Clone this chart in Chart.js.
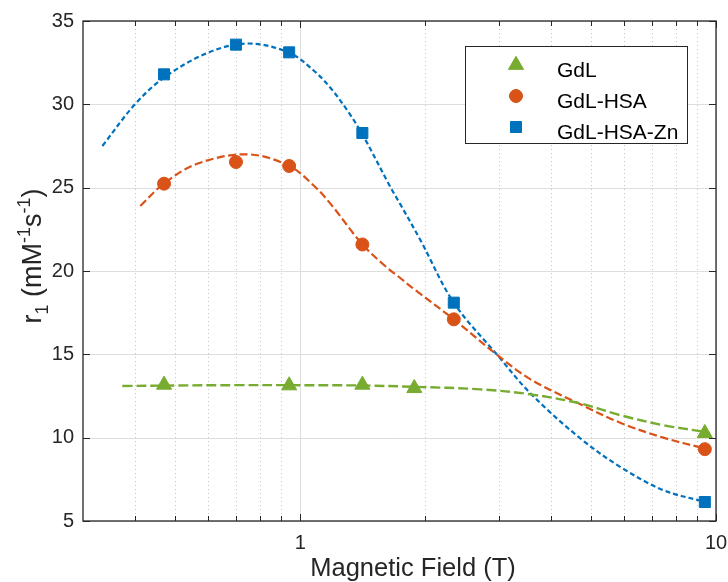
<!DOCTYPE html>
<html>
<head>
<meta charset="utf-8">
<script src="https://cdn.jsdelivr.net/npm/chart.js@4"></script>
<style>
  html, body { margin: 0; padding: 0; background: #ffffff; }
  #wrap { width: 728px; height: 582px; }
</style>
</head>
<body>
<div id="wrap"><canvas id="relaxChart" width="728" height="582"></canvas></div>
<script>
// Measured points
const gdlField = [0.47, 0.94, 1.41, 1.88, 9.4];
const gdlR1 = [13.17, 13.13, 13.17, 12.97, 10.27];

const hsaField = [0.47, 0.7, 0.94, 1.41, 2.34, 9.4];
const hsaR1 = [25.24, 26.54, 26.3, 21.59, 17.1, 9.31];

const znField = [0.47, 0.7, 0.94, 1.41, 2.34, 9.4];
const znR1 = [31.8, 33.58, 33.12, 28.28, 18.1, 6.14];

// Fitted curves
const gdlFitField = [0.373, 0.5, 0.7, 0.94, 1.41, 1.88, 2.71, 3.58, 4.72, 5.88, 7.47, 9.4];
const gdlFitR1 = [13.1, 13.13, 13.15, 13.15, 13.13, 13.05, 12.9, 12.6, 12.05, 11.35, 10.75, 10.35];

const hsaFitField = [0.412, 0.47, 0.567, 0.748, 0.94, 1.08, 1.185, 1.41, 1.6, 1.745, 1.88, 2.34, 2.98, 3.58, 4.72, 5.88, 7.47, 9.4];
const hsaFitR1 = [23.9, 25.25, 26.45, 27.0, 26.3, 25.1, 24.0, 21.6, 20.3, 19.55, 18.9, 17.1, 14.95, 13.5, 12.0, 10.9, 10.0, 9.35];

const znFitField = [0.334, 0.4, 0.47, 0.6, 0.748, 0.94, 1.08, 1.185, 1.3, 1.41, 1.65, 1.745, 1.95, 2.34, 2.98, 3.58, 4.72, 5.88, 7.47, 9.4];
const znFitR1 = [27.5, 30.0, 31.6, 33.1, 33.65, 33.1, 32.0, 30.95, 29.6, 28.2, 25.0, 23.95, 21.8, 18.1, 14.95, 12.65, 9.95, 8.25, 6.85, 6.15];

// Axis ticks
const xMajorTicks = [1, 10];
const xMinorTicks = [0.4, 0.5, 0.6, 0.7, 0.8, 0.9, 2, 3, 4, 5, 6, 7, 8, 9];
const yTicks = [5, 10, 15, 20, 25, 30, 35];

const seriesNames = ['GdL', 'GdL-HSA', 'GdL-HSA-Zn'];
const BLUE = '#0072BD';
const ORANGE = '#D95319';
const GREEN = '#77AC30';
const AXIS = '#262626';
const FONT = '"Liberation Sans", Arial, Helvetica, sans-serif';

function toPoints(xs, ys) {
    return xs.map((x, i) => ({x: x, y: ys[i]}));
}

function fitDataset(xs, ys, color, dash, width) {
    return {
        data: toPoints(xs, ys),
        showLine: true,
        borderColor: color,
        borderWidth: width,
        borderDash: dash,
        pointRadius: 0,
        pointHoverRadius: 0,
        tension: 0.35,
        fill: false,
        order: 2
    };
}

function markerDataset(label, xs, ys, color, style, radius) {
    return {
        label: label,
        data: toPoints(xs, ys),
        showLine: false,
        pointStyle: style,
        pointRadius: radius,
        pointBackgroundColor: color,
        pointBorderColor: color,
        pointBorderWidth: 1,
        order: 1
    };
}

// Draw a marker shaped like the Chart.js ones (used in the legend)
function drawMarker(ctx, style, r, x, y, color) {
    ctx.save();
    ctx.fillStyle = color;
    ctx.strokeStyle = color;
    ctx.lineWidth = 1;
    ctx.beginPath();
    if (style === 'triangle') {
        ctx.moveTo(x, y - r);
        ctx.lineTo(x + 0.866 * r, y + 0.5 * r);
        ctx.lineTo(x - 0.866 * r, y + 0.5 * r);
        ctx.closePath();
    } else if (style === 'rect') {
        const s = Math.SQRT1_2 * r;
        ctx.rect(x - s, y - s, 2 * s, 2 * s);
    } else {
        ctx.arc(x, y, r, 0, Math.PI * 2);
    }
    ctx.fill();
    ctx.stroke();
    ctx.restore();
}

// Text with sub/superscript runs
function drawRuns(ctx, runs, cx, baseY) {
    let total = 0;
    runs.forEach(r => {
        ctx.font = r.size + 'px ' + FONT;
        r.w = ctx.measureText(r.t).width;
        total += r.w;
    });
    let x = cx - total / 2;
    runs.forEach(r => {
        ctx.font = r.size + 'px ' + FONT;
        ctx.fillText(r.t, x, baseY + (r.dy || 0));
        x += r.w;
    });
}

const matlabAxes = {
    id: 'matlabAxes',
    beforeDatasetsDraw(chart) {
        const ctx = chart.ctx;
        const area = chart.chartArea;
        const xs = chart.scales.x;
        const ys = chart.scales.y;
        ctx.save();
        // minor dotted grid
        ctx.strokeStyle = '#c4c4c4';
        ctx.lineWidth = 1;
        ctx.setLineDash([1, 3]);
        xMinorTicks.forEach(v => {
            const px = Math.round(xs.getPixelForValue(v)) + 0.5;
            ctx.beginPath();
            ctx.moveTo(px, area.top);
            ctx.lineTo(px, area.bottom);
            ctx.stroke();
        });
        // major solid grid
        ctx.setLineDash([]);
        ctx.strokeStyle = '#dedede';
        xMajorTicks.forEach(v => {
            const px = Math.round(xs.getPixelForValue(v)) + 0.5;
            ctx.beginPath();
            ctx.moveTo(px, area.top);
            ctx.lineTo(px, area.bottom);
            ctx.stroke();
        });
        yTicks.forEach(v => {
            const py = Math.round(ys.getPixelForValue(v)) + 0.5;
            ctx.beginPath();
            ctx.moveTo(area.left, py);
            ctx.lineTo(area.right, py);
            ctx.stroke();
        });
        ctx.restore();
    },
    afterDatasetsDraw(chart) {
        const ctx = chart.ctx;
        const area = chart.chartArea;
        const xs = chart.scales.x;
        const ys = chart.scales.y;
        ctx.save();
        ctx.strokeStyle = AXIS;
        ctx.lineWidth = 1.3;
        ctx.strokeRect(area.left, area.top, area.right - area.left, area.bottom - area.top);

        // inward ticks on all four sides
        ctx.lineWidth = 1;
        ctx.beginPath();
        xMajorTicks.concat(xMinorTicks).forEach(v => {
            const len = xMajorTicks.includes(v) ? 7 : 5;
            const px = Math.round(xs.getPixelForValue(v)) + 0.5;
            ctx.moveTo(px, area.bottom);
            ctx.lineTo(px, area.bottom - len);
            ctx.moveTo(px, area.top);
            ctx.lineTo(px, area.top + len);
        });
        yTicks.forEach(v => {
            const py = Math.round(ys.getPixelForValue(v)) + 0.5;
            ctx.moveTo(area.left, py);
            ctx.lineTo(area.left + 7, py);
            ctx.moveTo(area.right, py);
            ctx.lineTo(area.right - 7, py);
        });
        ctx.stroke();

        // legend
        const lx = 465, ly = 46, lw = 222, lh = 97;
        ctx.fillStyle = '#ffffff';
        ctx.fillRect(lx, ly, lw, lh);
        ctx.strokeStyle = AXIS;
        ctx.lineWidth = 1;
        ctx.strokeRect(lx + 0.5, ly + 0.5, lw, lh);
        const styles = ['triangle', 'circle', 'rect'];
        const sizes = [8.7, 6.5, 7.8];
        const colors = [GREEN, ORANGE, BLUE];
        ctx.textBaseline = 'alphabetic';
        ctx.textAlign = 'left';
        seriesNames.forEach((name, i) => {
            const rowY = 65 + i * 31;
            drawMarker(ctx, styles[i], sizes[i], 516, rowY, colors[i]);
            ctx.fillStyle = '#000000';
            ctx.font = '21px ' + FONT;
            ctx.fillText(name, 557, rowY + 11.5);
        });

        // axis titles
        ctx.fillStyle = AXIS;
        drawRuns(ctx, [{t: 'Magnetic Field (T)', size: 25.5}], 413, 576);

        ctx.translate(41, 256);
        ctx.rotate(-Math.PI / 2);
        drawRuns(ctx, [
            {t: 'r', size: 27},
            {t: '1', size: 18, dy: 7},
            {t: ' (mM', size: 27},
            {t: '-1', size: 18, dy: -11},
            {t: 's', size: 27},
            {t: '-1', size: 18, dy: -11},
            {t: ')', size: 27}
        ], 0, 0);
        ctx.restore();
    }
};

function drawChart() {
    const ctx = document.getElementById('relaxChart').getContext('2d');

    window.relaxChart = new Chart(ctx, {
        type: 'scatter',
        data: {
            datasets: [
                fitDataset(gdlFitField, gdlFitR1, GREEN, [10, 4], 2.4),
                fitDataset(hsaFitField, hsaFitR1, ORANGE, [8, 3.5], 2.2),
                fitDataset(znFitField, znFitR1, BLUE, [5, 3], 2.2),
                markerDataset(seriesNames[0], gdlField, gdlR1, GREEN, 'triangle', 8.7),
                markerDataset(seriesNames[1], hsaField, hsaR1, ORANGE, 'circle', 6.5),
                markerDataset(seriesNames[2], znField, znR1, BLUE, 'rect', 7.8)
            ]
        },
        options: {
            responsive: false,
            animation: false,
            layout: {
                padding: {left: 0, top: 21, right: 12, bottom: 0}
            },
            plugins: {
                legend: {display: false},
                tooltip: {enabled: false}
            },
            scales: {
                x: {
                    type: 'logarithmic',
                    min: 0.3,
                    max: 10,
                    grid: {display: false, drawTicks: false},
                    border: {display: false},
                    afterBuildTicks: scale => {
                        scale.ticks = xMajorTicks.map(v => ({value: v}));
                    },
                    afterFit: scale => {
                        scale.height = 61;
                        scale.paddingLeft = 0;
                        scale.paddingRight = 0;
                    },
                    ticks: {
                        autoSkip: false,
                        maxRotation: 0,
                        padding: 10,
                        color: AXIS,
                        font: {family: FONT, size: 20},
                        callback: v => String(v)
                    }
                },
                y: {
                    min: 5,
                    max: 35,
                    grid: {display: false, drawTicks: false},
                    border: {display: false},
                    afterBuildTicks: scale => {
                        scale.ticks = yTicks.map(v => ({value: v}));
                    },
                    afterFit: scale => {
                        scale.width = 83;
                        scale.paddingTop = 0;
                        scale.paddingBottom = 0;
                    },
                    ticks: {
                        padding: 9,
                        color: AXIS,
                        font: {family: FONT, size: 20},
                        callback: v => String(v)
                    }
                }
            }
        },
        plugins: [matlabAxes]
    });
}

drawChart();
</script>
</body>
</html>
